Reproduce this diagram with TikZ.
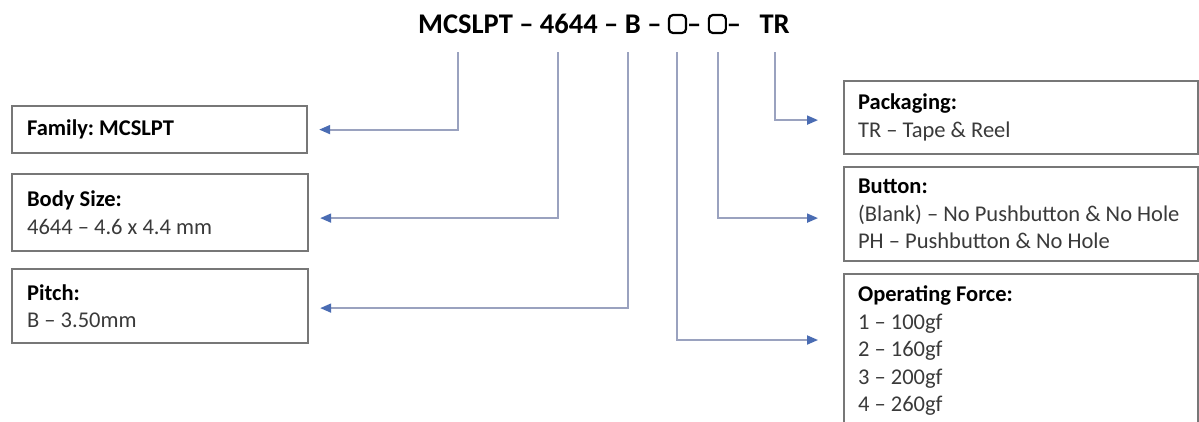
\documentclass[tikz,border=0pt]{standalone}
\usepackage{fontspec}
\setmainfont{Carlito}
\frenchspacing
\usetikzlibrary{arrows.meta}
\definecolor{boxgray}{HTML}{777777}
\definecolor{linegray}{HTML}{9AA2BF}
\definecolor{tipblue}{HTML}{4A6CB3}
\definecolor{txt}{HTML}{3A3A3A}
\newcommand\sqbox{\tikz[baseline=0pt]\draw[line width=2.2pt, rounded corners=4pt] (0pt,0pt) rectangle (17pt,18pt);}
\tikzset{
 infobox/.style={draw=boxgray, line width=2.2pt, rectangle, anchor=north west, inner xsep=15pt, inner ysep=6pt, align=flush left, text=txt, font=\fontsize{22.5}{27.5}\selectfont},
 conn/.style={draw=linegray, line width=1.8pt, -{Triangle[length=11pt,width=9pt,fill=tipblue,color=tipblue]}}
}
\begin{document}
\begin{tikzpicture}[x=1pt,y=-1pt]
\useasboundingbox (0,0) rectangle (1199,421);
\clip (0,0) rectangle (1199,421);
\fill[white] (0,0) rectangle (1199,421);

\node[anchor=base west, inner sep=0pt, font=\fontsize{28.5}{32}\selectfont\bfseries] (title) at (418,33)
  {MCSLPT – 4644 – B – \sqbox– \sqbox– \hspace{12pt}TR};

\node[infobox, text width=265pt, minimum height=47pt] (family) at (11,105)
  {\textcolor{black}{\textbf{Family: MCSLPT}}};
\node[infobox, text width=266pt, minimum height=77pt] (body) at (11,173)
  {\textcolor{black}{\textbf{Body Size:}}\\4644 – 4.6 x 4.4 mm};
\node[infobox, text width=266pt, minimum height=74pt] (pitch) at (11,268)
  {\textcolor{black}{\textbf{Pitch:}}\\B – 3.50mm};

\node[infobox, inner xsep=14pt, text width=326pt, minimum height=73pt] (pack) at (843,80)
  {\textcolor{black}{\textbf{Packaging:}}\\TR – Tape \& Reel};
\node[infobox, inner xsep=14pt, text width=326pt, minimum height=94pt] (button) at (843,166)
  {\textcolor{black}{\textbf{Button:}}\\(Blank) – No Pushbutton \& No Hole\\PH – Pushbutton \& No Hole};
\node[infobox, inner xsep=14pt, text width=326pt, inner ysep=12pt] (force) at (843,273)
  {\textcolor{black}{\textbf{Operating Force:}}\\1 – 100gf\\2 – 160gf\\3 – 200gf\\4 – 260gf};

\coordinate (tFam) at (458,52);
\coordinate (tBody) at (558,52);
\coordinate (tPitch) at (628,52);
\coordinate (tForce) at (677,52);
\coordinate (tButton) at (718,52);
\coordinate (tPack) at (775,52);

\draw[conn, shorten >=11pt] (tFam) |- (family.east);
\draw[conn, shorten >=11pt] (tBody) |- ([yshift=-5.5pt]body.east);
\draw[conn, shorten >=11pt] (tPitch) |- ([yshift=-2pt]pitch.east);
\draw[conn, shorten >=25pt] (tPack) |- ([yshift=-2.5pt]pack.west);
\draw[conn, shorten >=25pt] (tButton) |- ([yshift=-4pt]button.west);
\draw[conn, shorten >=25pt] (tForce) |- ([yshift=-67pt]force.north west);
\end{tikzpicture}
\end{document}
